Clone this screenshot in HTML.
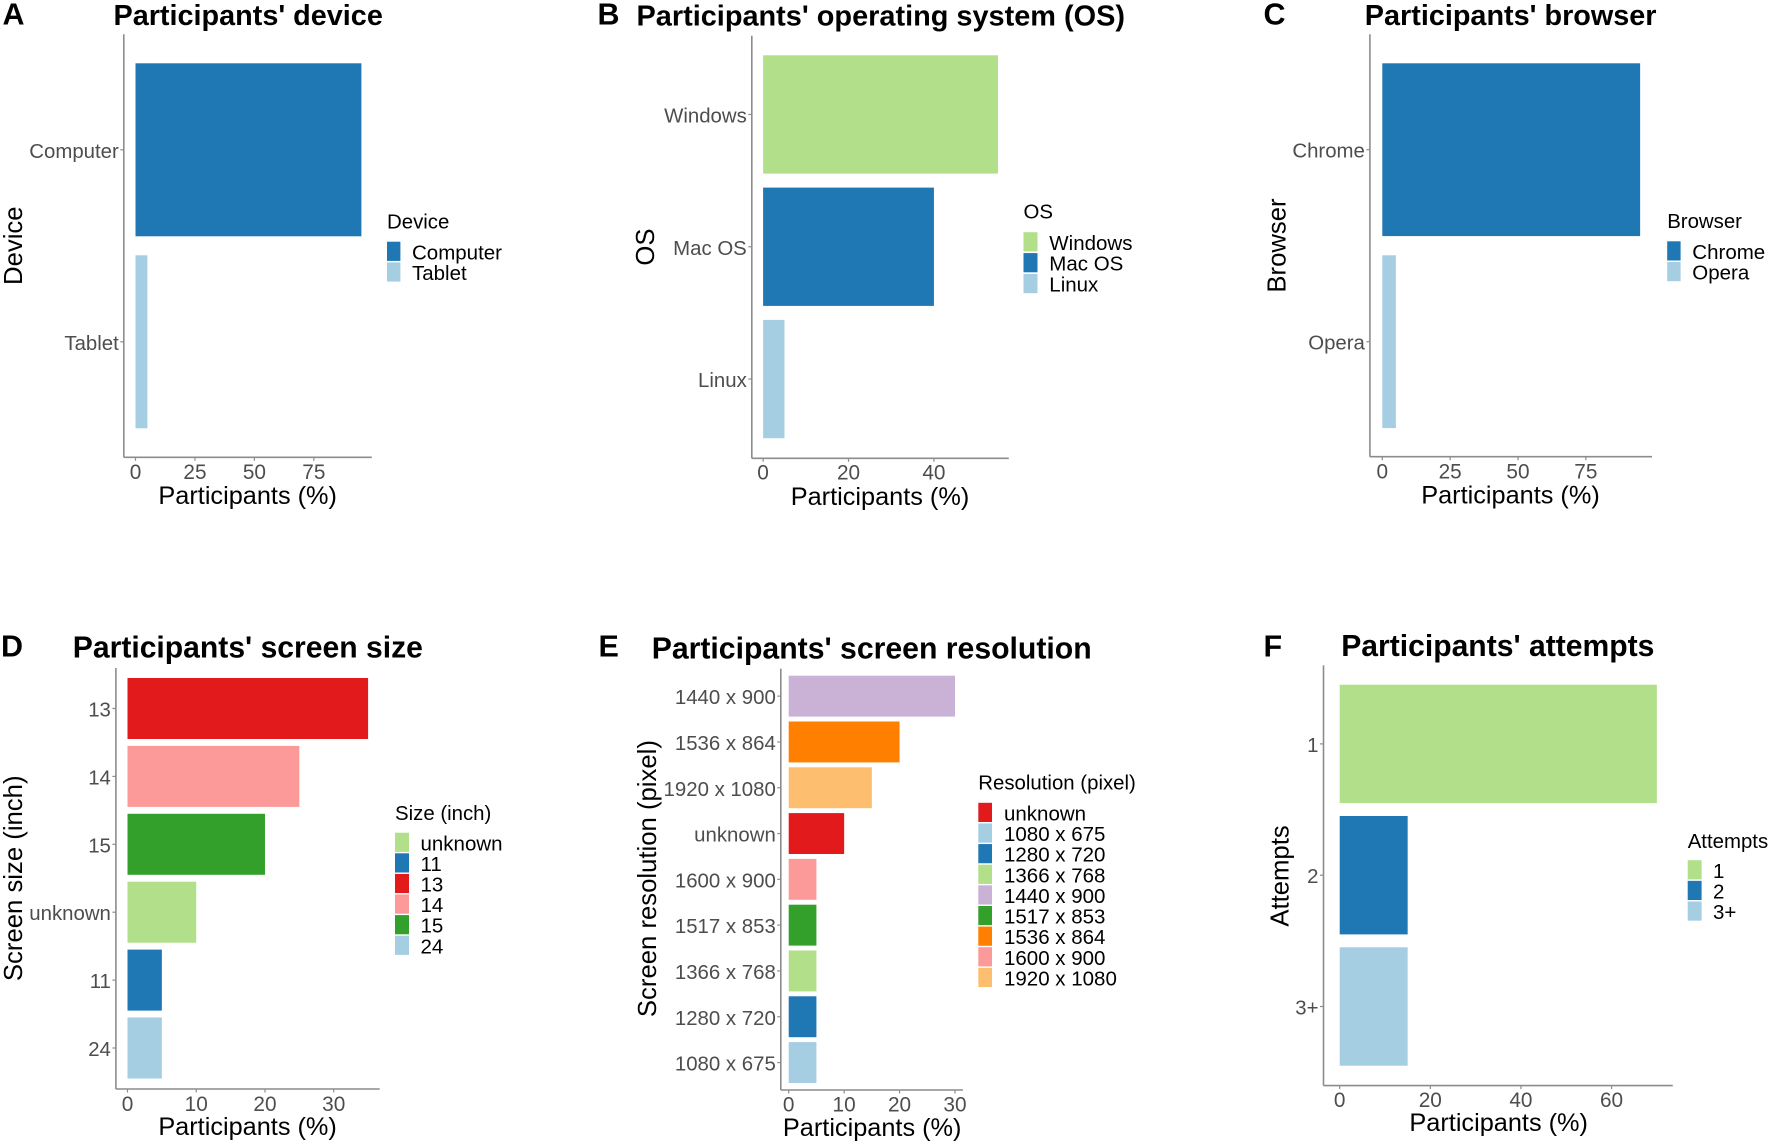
<!DOCTYPE html>
<html lang="en">
<head>
<meta charset="utf-8">
<title>Participants' device, OS, browser, screen size, resolution and attempts</title>
<style>
  html, body { margin: 0; padding: 0; background: #fff; }
  #figure { display: block; width: 1772px; height: 1146px; font-family: "Liberation Sans", Arial, sans-serif; }
</style>
</head>
<body>
<svg id="figure" xmlns="http://www.w3.org/2000/svg" width="1772" height="1146" viewBox="0 0 1772 1146"></svg>
<script>
// ---- Data ----
const deviceCategories = ['Computer', 'Tablet'];
const deviceValues = [95, 5];
const deviceTicks = [0, 25, 50, 75];
const deviceLegend = ['Computer', 'Tablet'];

const osCategories = ['Windows', 'Mac OS', 'Linux'];
const osValues = [55, 40, 5];
const osTicks = [0, 20, 40];
const osLegend = ['Windows', 'Mac OS', 'Linux'];

const browserCategories = ['Chrome', 'Opera'];
const browserValues = [95, 5];
const browserTicks = [0, 25, 50, 75];
const browserLegend = ['Chrome', 'Opera'];

const sizeCategories = ['13', '14', '15', 'unknown', '11', '24'];
const sizeValues = [35, 25, 20, 10, 5, 5];
const sizeTicks = [0, 10, 20, 30];
const sizeLegend = ['unknown', '11', '13', '14', '15', '24'];

const resolutionCategories = ['1440 x 900', '1536 x 864', '1920 x 1080', 'unknown', '1600 x 900', '1517 x 853', '1366 x 768', '1280 x 720', '1080 x 675'];
const resolutionValues = [30, 20, 15, 10, 5, 5, 5, 5, 5];
const resolutionTicks = [0, 10, 20, 30];
const resolutionLegend = ['unknown', '1080 x 675', '1280 x 720', '1366 x 768', '1440 x 900', '1517 x 853', '1536 x 864', '1600 x 900', '1920 x 1080'];

const attemptCategories = ['1', '2', '3+'];
const attemptValues = [70, 15, 15];
const attemptTicks = [0, 20, 40, 60];
const attemptLegend = ['1', '2', '3+'];

// ---- Colours ----
const BLUE = '#1f78b4', LIGHT = '#a6cee3', GREEN = '#b2df8a', RED = '#e31a1c', PINK = '#fb9a99',
      DGREEN = '#33a02c', ORANGE = '#ff7f00', LORANGE = '#fdbf6f', PURPLE = '#cab2d6';
const deviceColors = { 'Computer': BLUE, 'Tablet': LIGHT };
const osColors = { 'Windows': GREEN, 'Mac OS': BLUE, 'Linux': LIGHT };
const browserColors = { 'Chrome': BLUE, 'Opera': LIGHT };
const sizeColors = { 'unknown': GREEN, '11': BLUE, '13': RED, '14': PINK, '15': DGREEN, '24': LIGHT };
const resolutionColors = { 'unknown': RED, '1080 x 675': LIGHT, '1280 x 720': BLUE, '1366 x 768': GREEN, '1440 x 900': PURPLE, '1517 x 853': DGREEN, '1536 x 864': ORANGE, '1600 x 900': PINK, '1920 x 1080': LORANGE };
const attemptColors = { '1': GREEN, '2': BLUE, '3+': LIGHT };

// ---- Panels: text, data references and layout geometry ----
const panels = [
  { id: 'device', letter: 'A', letterX: 2.5, letterY: 24.5, title: "Participants' device", titleX: 113.5, titleY: 25, titleFS: 28.8,
    cats: deviceCategories, vals: deviceValues, ticks: deviceTicks, legend: deviceLegend, colors: deviceColors,
    yTitle: 'Device', legendTitle: 'Device',
    axisL: 123.8, axisR: 371.8, axisT: 34.3, axisB: 457.3, x0: 135.5, k: 2.378,
    bandTop: 63.3, bandH: 173, step: 192,
    tickLabelY: 479.2, xTitleX: 247.7, xTitleY: 504, yTitleX: 21.8, yTitleY: 245.7,
    legX: 387, legTitleY: 228.3, keyTop: 241.7, keyW: 13.4, keyH: 19.2, keyStep: 20.7, legLabelX: 412 },
  { id: 'os', letter: 'B', letterX: 597.5, letterY: 24.5, title: "Participants' operating system (OS)", titleX: 636.5, titleY: 25.5, titleFS: 28.9,
    cats: osCategories, vals: osValues, ticks: osTicks, legend: osLegend, colors: osColors,
    yTitle: 'OS', legendTitle: 'OS',
    axisL: 751.8, axisR: 1008.8, axisT: 35.7, axisB: 458.3, x0: 763.1, k: 4.271,
    bandTop: 55.3, bandH: 118.3, step: 132.3,
    tickLabelY: 479.5, xTitleX: 880, xTitleY: 505, yTitleX: 654, yTitleY: 247,
    legX: 1023.5, legTitleY: 218.3, keyTop: 232.2, keyW: 14, keyH: 19.2, keyStep: 20.9, legLabelX: 1049.3 },
  { id: 'browser', letter: 'C', letterX: 1263.5, letterY: 24.5, title: "Participants' browser", titleX: 1364.8, titleY: 25, titleFS: 28.8,
    cats: browserCategories, vals: browserValues, ticks: browserTicks, legend: browserLegend, colors: browserColors,
    yTitle: 'Browser', legendTitle: 'Browser',
    axisL: 1369.9, axisR: 1652, axisT: 34.3, axisB: 456.7, x0: 1382.3, k: 2.714,
    bandTop: 63.3, bandH: 172.8, step: 192,
    tickLabelY: 478.3, xTitleX: 1510.5, xTitleY: 503.3, yTitleX: 1285.7, yTitleY: 245.5,
    legX: 1667.2, legTitleY: 228, keyTop: 241.3, keyW: 13.4, keyH: 19.2, keyStep: 20.7, legLabelX: 1692.3 },
  { id: 'screen-size', letter: 'D', letterX: 1, letterY: 656.5, title: "Participants' screen size", titleX: 72.8, titleY: 657.5, titleFS: 30.1,
    cats: sizeCategories, vals: sizeValues, ticks: sizeTicks, legend: sizeLegend, colors: sizeColors,
    yTitle: 'Screen size (inch)', legendTitle: 'Size (inch)',
    axisL: 115.9, axisR: 379.7, axisT: 668, axisB: 1089, x0: 127.5, k: 6.874,
    bandTop: 678, bandH: 61, step: 67.9,
    tickLabelY: 1110.8, xTitleX: 247.6, xTitleY: 1135.2, yTitleX: 21.8, yTitleY: 878.3,
    legX: 395, legTitleY: 819.8, keyTop: 832.7, keyW: 14, keyH: 19.2, keyStep: 20.6, legLabelX: 420.5 },
  { id: 'screen-resolution', letter: 'E', letterX: 598.5, letterY: 656.5, title: "Participants' screen resolution", titleX: 651.7, titleY: 658.5, titleFS: 30.2,
    cats: resolutionCategories, vals: resolutionValues, ticks: resolutionTicks, legend: resolutionLegend, colors: resolutionColors,
    yTitle: 'Screen resolution (pixel)', legendTitle: 'Resolution (pixel)',
    axisL: 780.8, axisR: 962.9, axisT: 668.6, axisB: 1090, x0: 788.7, k: 5.543,
    bandTop: 675.7, bandH: 40.9, step: 45.8,
    tickLabelY: 1111.4, xTitleX: 872.2, xTitleY: 1135.8, yTitleX: 655.9, yTitleY: 878.6,
    legX: 978.3, legTitleY: 789.6, keyTop: 802.8, keyW: 13.7, keyH: 19.2, keyStep: 20.63, legLabelX: 1004 },
  { id: 'attempts', letter: 'F', letterX: 1263.5, letterY: 656.5, title: "Participants' attempts", titleX: 1341.2, titleY: 656, titleFS: 30.1,
    cats: attemptCategories, vals: attemptValues, ticks: attemptTicks, legend: attemptLegend, colors: attemptColors,
    yTitle: 'Attempts', legendTitle: 'Attempts',
    axisL: 1323.5, axisR: 1672.8, axisT: 665.3, axisB: 1085.6, x0: 1339.7, k: 4.531,
    bandTop: 684.7, bandH: 118.4, step: 131.3,
    tickLabelY: 1107, xTitleX: 1498.7, xTitleY: 1131, yTitleX: 1288.7, yTitleY: 876,
    legX: 1687.7, legTitleY: 848.2, keyTop: 860.2, keyW: 13.9, keyH: 19.2, keyStep: 20.63, legLabelX: 1713 }
];

// ---- Drawing ----
const SVGNS = 'http://www.w3.org/2000/svg';
const figure = document.getElementById('figure');

function make(parent, tag, props, content) {
  const el = document.createElementNS(SVGNS, tag);
  for (const key in props) el.setAttribute(key, props[key]);
  if (content !== undefined) el.textContent = content;
  parent.appendChild(el);
  return el;
}
function slug(s) {
  return String(s).toLowerCase().replace(/[^a-z0-9]+/g, '-').replace(/^-|-$/g, '');
}
function xScale(p, value) { return p.x0 + value * p.k; }
function bandTop(p, index) { return p.bandTop + index * p.step; }
function bandMid(p, index) { return bandTop(p, index) + p.bandH / 2; }

const AXIS = '#8c8c8c', TICKTEXT = '#4d4d4d', XTICKFS = 20.8, YTICKFS = 20.4, AXISFS = 25.3, YAXISFS = 25.7, LEGFS = 20.5, LEGTFS = 20.4;

panels.forEach(function (p) {
  const g = make(figure, 'g', {});
  
  

  const letter = make(g, 'text', { x: p.letterX, y: p.letterY, 'font-size': 30.5, 'font-weight': 'bold', fill: '#000' }, p.letter);
  
  

  const title = make(g, 'text', { x: p.titleX, y: p.titleY, 'font-size': p.titleFS, 'font-weight': 'bold', fill: '#000' }, p.title);
  
  

  // bars
  p.cats.forEach(function (cat, i) {
    const bar = make(g, 'rect', {
      x: xScale(p, 0), y: bandTop(p, i),
      width: xScale(p, p.vals[i]) - xScale(p, 0), height: p.bandH,
      fill: p.colors[cat]
    });
    
    
  });

  // axis lines
  const yAxis = make(g, 'line', { x1: p.axisL, x2: p.axisL, y1: p.axisT, y2: p.axisB, stroke: AXIS, 'stroke-width': 1.6 });
  
  
  const xAxis = make(g, 'line', { x1: p.axisL, x2: p.axisR, y1: p.axisB, y2: p.axisB, stroke: AXIS, 'stroke-width': 1.6 });
  
  

  // x ticks
  p.ticks.forEach(function (t) {
    const mark = make(g, 'line', { x1: xScale(p, t), x2: xScale(p, t), y1: p.axisB, y2: p.axisB + 3.5, stroke: AXIS, 'stroke-width': 1.2 });
    
    
    const lab = make(g, 'text', { x: xScale(p, t), y: p.tickLabelY, 'font-size': XTICKFS, fill: TICKTEXT, 'text-anchor': 'middle' }, String(t));
    
    
  });

  // y ticks
  p.cats.forEach(function (cat, i) {
    const y = bandMid(p, i);
    const mark = make(g, 'line', { x1: p.axisL - 3.5, x2: p.axisL, y1: y, y2: y, stroke: AXIS, 'stroke-width': 1.2 });
    
    
    const lab = make(g, 'text', { x: p.axisL - 5, y: y + 8, 'font-size': YTICKFS, fill: TICKTEXT, 'text-anchor': 'end' }, cat);
    
    
  });

  // axis titles
  const xt = make(g, 'text', { x: p.xTitleX, y: p.xTitleY, 'font-size': AXISFS, fill: '#000', 'text-anchor': 'middle' }, 'Participants (%)');
  
  
  const yt = make(g, 'text', { x: 0, y: 0, transform: 'translate(' + p.yTitleX + ' ' + p.yTitleY + ') rotate(-90)', 'font-size': YAXISFS, fill: '#000', 'text-anchor': 'middle' }, p.yTitle);
  
  

  // legend
  const leg = make(g, 'g', {});
  
  
  const lt = make(leg, 'text', { x: p.legX, y: p.legTitleY, 'font-size': LEGTFS, fill: '#000' }, p.legendTitle);
  
  
  p.legend.forEach(function (name, i) {
    const ky = p.keyTop + i * p.keyStep;
    const key = make(leg, 'rect', { x: p.legX, y: ky, width: p.keyW, height: p.keyH, fill: p.colors[name] });
    
    
    const label = make(leg, 'text', { x: p.legLabelX, y: ky + p.keyH / 2 + 8, 'font-size': LEGFS, fill: '#000' }, name);
    
    
  });
});
</script>
</body>
</html>
